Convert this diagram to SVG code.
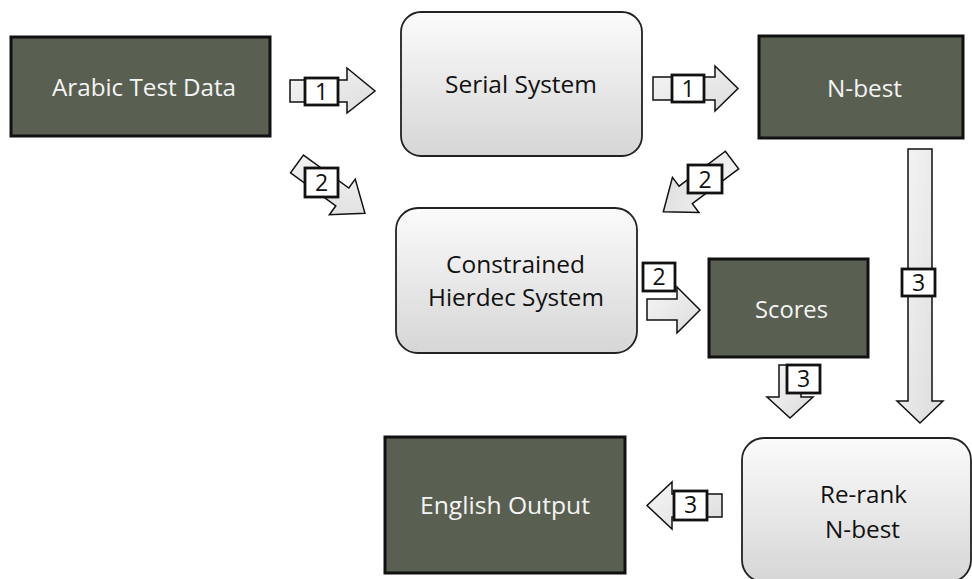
<svg xmlns="http://www.w3.org/2000/svg" width="972" height="579" viewBox="0 0 972 579">
<defs>
<linearGradient id="lg" x1="0" y1="0" x2="0" y2="1">
<stop offset="0" stop-color="#fbfbfb"/>
<stop offset="1" stop-color="#d6d6d6"/>
</linearGradient>
<linearGradient id="ag" x1="0" y1="0" x2="1" y2="1">
<stop offset="0" stop-color="#f6f6f6"/>
<stop offset="1" stop-color="#dcdcdc"/>
</linearGradient>
<style>
.dark{fill:#5a6051;stroke:#111;stroke-width:3}
.light{fill:url(#lg);stroke:#222;stroke-width:1.8}
.tw{font-family:"Open Sans","Liberation Sans",sans-serif;font-size:23px;fill:#f4f4f4;text-anchor:middle}
.tb{font-family:"Open Sans","Liberation Sans",sans-serif;font-size:23px;fill:#111;text-anchor:middle}
.arr{fill:url(#ag);stroke:#111;stroke-width:1.5;stroke-linejoin:miter}
.lb{fill:#fff;stroke:#111;stroke-width:2.8}
.ln{font-family:"Open Sans","Liberation Sans",sans-serif;font-size:23px;fill:#111;text-anchor:middle}
</style>
</defs>
<rect width="972" height="579" fill="#fff"/>
<g id="connectors">
<g id="a1">
<path class="arr" d="M290,80 H347 V68 L375,91 L347,113 V102 H290 Z"/>
<rect class="lb" x="305" y="78" width="33" height="27"/>
<text class="ln" x="321.5" y="100">1</text>
</g>
<g id="a2">
<path class="arr" d="M653,77 H715 V66 L738,88.5 L715,111 V100 H653 Z"/>
<rect class="lb" x="672" y="75" width="32" height="27"/>
<text class="ln" x="688" y="97">1</text>
</g>
<g id="a3">
<path class="arr" transform="translate(297,164) rotate(36)" d="M0,-11 H56 V-22 L84,0 L56,22 V11 H0 Z"/>
<rect class="lb" x="305" y="168" width="33" height="29"/>
<text class="ln" x="321.5" y="191">2</text>
</g>
<g id="a4">
<path class="arr" transform="translate(732,160) rotate(143)" d="M0,-11 H58 V-22 L86,0 L58,22 V11 H0 Z"/>
<rect class="lb" x="688" y="165" width="34" height="28"/>
<text class="ln" x="705" y="188">2</text>
</g>
<g id="a5">
<path class="arr" d="M647,299 H677 V287 L700,310 L677,333 V320 H647 Z"/>
<rect class="lb" x="643" y="263" width="32" height="28"/>
<text class="ln" x="659" y="285">2</text>
</g>
<g id="a6">
<path class="arr" d="M779,365 H801 V397 H813 L790,418 L767,397 H779 Z"/>
<rect class="lb" x="787" y="365" width="33" height="28"/>
<text class="ln" x="803.5" y="387">3</text>
</g>
<g id="a7">
<path class="arr" d="M908,149 H932 V401 H943 L920,423 L897,401 H908 Z"/>
<rect class="lb" x="902" y="269" width="33" height="27"/>
<text class="ln" x="918.5" y="291">3</text>
</g>
<g id="a8">
<path class="arr" d="M722,494 H672 V482 L647,505.5 L672,529 V517 H722 Z"/>
<rect class="lb" x="674" y="491" width="33" height="29"/>
<text class="ln" x="690.5" y="513">3</text>
</g>
</g>
<g id="arabic">
<rect class="dark" x="11" y="37" width="259" height="99"/>
<text class="tw" x="144" y="96" textLength="184" lengthAdjust="spacingAndGlyphs">Arabic Test Data</text>
</g>
<g id="serial">
<rect class="light" x="401" y="12" width="241" height="144" rx="20"/>
<text class="tb" x="521" y="93" textLength="152" lengthAdjust="spacingAndGlyphs">Serial System</text>
</g>
<g id="nbest">
<rect class="dark" x="759" y="36" width="204" height="102"/>
<text class="tw" x="864.5" y="97" textLength="75" lengthAdjust="spacingAndGlyphs">N-best</text>
</g>
<g id="hierdec">
<rect class="light" x="396" y="208" width="241" height="145" rx="22"/>
<text class="tb" x="515.5" y="273" textLength="139" lengthAdjust="spacingAndGlyphs">Constrained</text>
<text class="tb" x="516" y="306" textLength="176" lengthAdjust="spacingAndGlyphs">Hierdec System</text>
</g>
<g id="scores">
<rect class="dark" x="709" y="259" width="159" height="98"/>
<text class="tw" x="791.5" y="318" textLength="73" lengthAdjust="spacingAndGlyphs">Scores</text>
</g>
<g id="english">
<rect class="dark" x="385" y="437" width="240" height="136"/>
<text class="tw" x="505" y="514" textLength="170" lengthAdjust="spacingAndGlyphs">English Output</text>
</g>
<g id="rerank">
<rect class="light" x="742" y="438" width="229" height="144" rx="22"/>
<text class="tb" x="863.5" y="503" textLength="87" lengthAdjust="spacingAndGlyphs">Re-rank</text>
<text class="tb" x="862.5" y="538" textLength="75" lengthAdjust="spacingAndGlyphs">N-best</text>
</g>
</svg>
